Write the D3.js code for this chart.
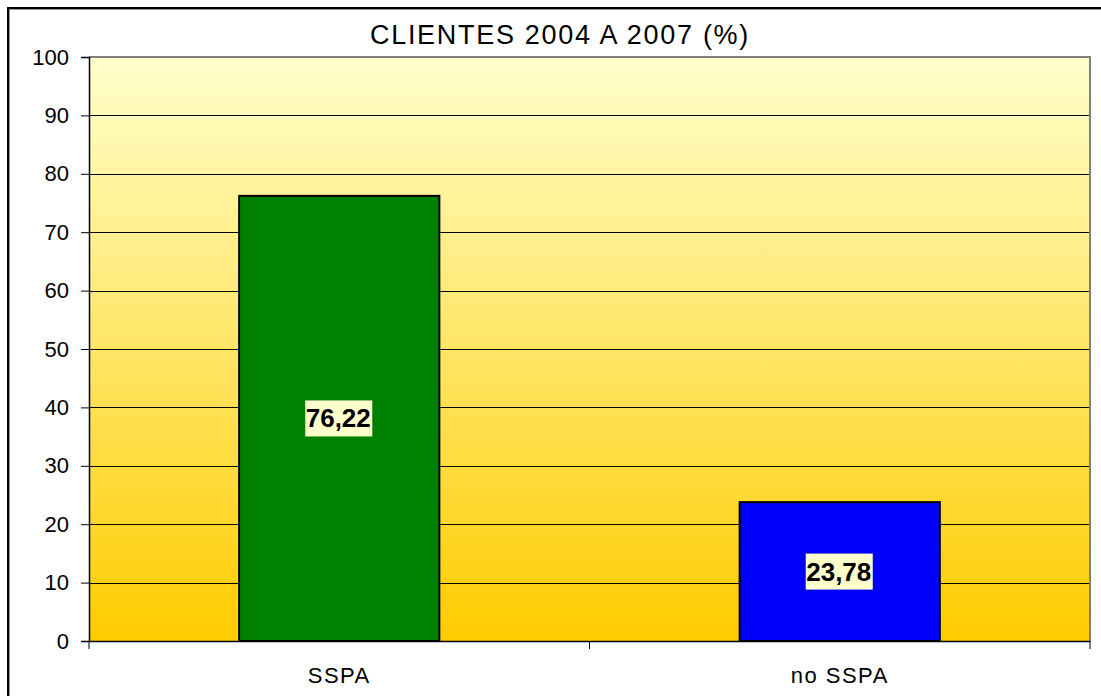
<!DOCTYPE html>
<html><head><meta charset="utf-8">
<script src="https://cdn.jsdelivr.net/npm/d3@7"></script>
<style>html,body{margin:0;padding:0;background:#fff;}svg{display:block;font-family:"Liberation Sans",Arial,sans-serif;}</style>
</head><body>
<svg id="c" width="1101" height="696"></svg>
<script>
const titleText = "CLIENTES 2004 A 2007 (%)";
const categories = ["SSPA", "no SSPA"];
const values = [76.22, 23.78];
const valueLabels = ["76,22", "23,78"];
const barColors = ["#008000", "#0000FF"];
const yTicks = [0,10,20,30,40,50,60,70,80,90,100];

const svg = d3.select("#c");
const m = {left:89, top:57, right:1090, bottom:641};

// outer chart border
svg.append("rect").attr("x",9).attr("y",9).attr("width",1120).attr("height",720)
  .attr("fill","none").attr("stroke","#999").attr("stroke-width",2);
svg.append("rect").attr("x",8).attr("y",8).attr("width",1120).attr("height",720)
  .attr("fill","none").attr("stroke","#000").attr("stroke-width",2);

const defs = svg.append("defs");
const g = defs.append("linearGradient").attr("id","bg").attr("x1",0).attr("y1",0).attr("x2",0).attr("y2",1);
g.append("stop").attr("offset","0%").attr("stop-color","#FFFFCC");
g.append("stop").attr("offset","100%").attr("stop-color","#FFCC00");

const x = d3.scaleBand().domain(categories).range([m.left, m.right]).paddingInner(0.6).paddingOuter(0.3);
const xc = d3.scaleBand().domain(categories).range([m.left, m.right]);
const y = d3.scaleLinear().domain([0,100]).range([m.bottom, m.top]);

svg.append("rect").attr("x",m.left).attr("y",m.top).attr("width",m.right-m.left).attr("height",m.bottom-m.top)
  .attr("fill","url(#bg)");

// gridlines
svg.append("g").selectAll("line").data(yTicks.filter(t=>t>0&&t<100)).join("line")
  .attr("x1",m.left).attr("x2",m.right).attr("y1",d=>Math.round(y(d))+0.5).attr("y2",d=>Math.round(y(d))+0.5)
  .attr("stroke","#000").attr("stroke-width",1);

// plot border top/right grey
svg.append("path").attr("d",`M${m.left},${m.top} H${m.right} V${m.bottom}`)
  .attr("fill","none").attr("stroke","#808080").attr("stroke-width",2);

// bars
svg.append("g").selectAll("rect").data(values).join("rect")
  .attr("x",(d,i)=>x(categories[i])).attr("width",x.bandwidth())
  .attr("y",d=>y(d)).attr("height",d=>y(0)-y(d))
  .attr("fill",(d,i)=>barColors[i]).attr("stroke","#000").attr("stroke-width",2);

// y axis
const ya = svg.append("g").attr("transform",`translate(${m.left},0)`)
  .call(d3.axisLeft(y).tickValues(yTicks).tickSize(8).tickPadding(12));
ya.select(".domain").attr("stroke","#000").attr("stroke-width",1.5);
ya.selectAll(".tick line").attr("stroke","#000");
ya.selectAll("text").attr("font-size",22).attr("fill","#000").attr("font-family","Liberation Sans, Arial, sans-serif");

// x axis
const xa = svg.append("g").attr("transform",`translate(0,${m.bottom})`)
  .call(d3.axisBottom(xc).tickSize(0).tickPadding(0));
xa.select(".domain").attr("stroke","#000").attr("stroke-width",1.5);
xa.selectAll("text").remove();
const xTickPos = [m.left, ...categories.map(c=>xc(c)+xc.bandwidth())];
xa.selectAll(".xt").data(xTickPos).join("line").attr("class","xt")
  .attr("x1",d=>d).attr("x2",d=>d).attr("y1",0).attr("y2",8).attr("stroke","#000");
xa.selectAll(".xl").data(categories).join("text").attr("class","xl")
  .attr("x",d=>xc(d)+xc.bandwidth()/2).attr("y",42)
  .attr("text-anchor","middle").attr("font-size",22).attr("letter-spacing",1.5).attr("fill","#000").text(d=>d);

// value labels
const lbl = svg.append("g").selectAll("g").data(values).join("g")
  .attr("transform",(d,i)=>`translate(${x(categories[i])+x.bandwidth()/2},${(y(d)+y(0))/2})`);
lbl.append("rect").attr("x",-34).attr("y",-18).attr("width",67).attr("height",36).attr("fill","#FFFFCC");
lbl.append("text").attr("text-anchor","middle").attr("x",-1).attr("y",9).attr("font-size",26).attr("font-weight","bold")
  .attr("fill","#000").text((d,i)=>valueLabels[i]);

// title
svg.append("text").attr("x",560).attr("y",44).attr("text-anchor","middle").attr("font-size",27)
  .attr("letter-spacing",1.7).attr("fill","#000").text(titleText);
</script>
</body></html>
